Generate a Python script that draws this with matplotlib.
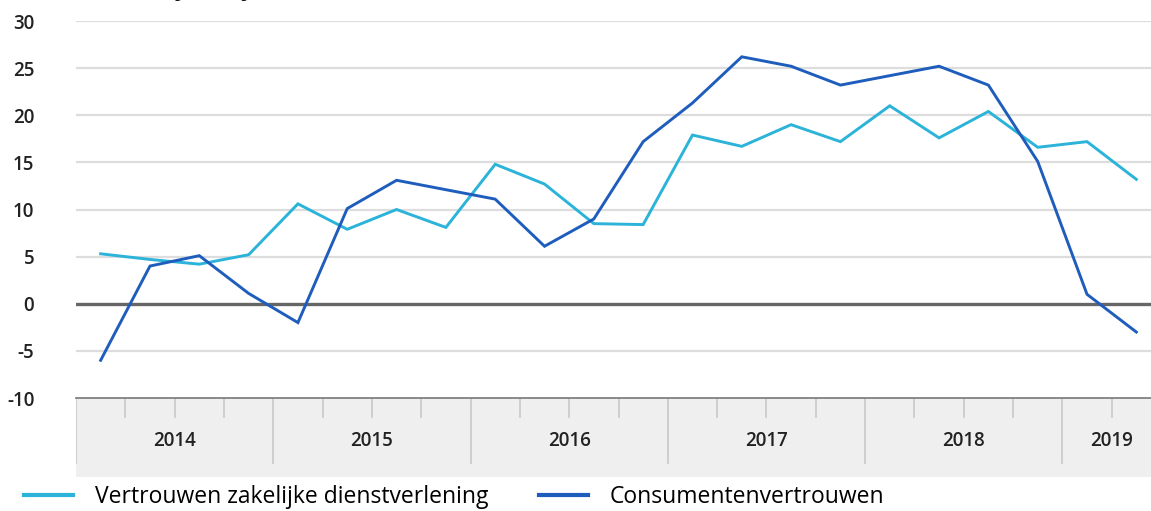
import matplotlib
matplotlib.use("Agg")
import matplotlib.pyplot as plt
from matplotlib.lines import Line2D

# Quarterly figures, 2014 Q1 .. 2019 Q2
years = ["2014", "2015", "2016", "2017", "2018", "2019"]
quarters_per_year = [4, 4, 4, 4, 4, 2]

zakelijk = [5.3, 4.7, 4.2, 5.2, 10.6, 7.9, 10.0, 8.1, 14.8, 12.7, 8.5,
            8.4, 17.9, 16.7, 19.0, 17.2, 21.0, 17.6, 20.4, 16.6, 17.2, 13.2]
consument = [-6.0, 4.0, 5.1, 1.1, -2.0, 10.1, 13.1, 12.1, 11.1, 6.1, 9.0,
             17.2, 21.3, 26.2, 25.2, 23.2, 24.2, 25.2, 23.2, 15.1, 1.0, -3.0]

y_ticks = [-10, -5, 0, 5, 10, 15, 20, 25, 30]
series_labels = ["Vertrouwen zakelijke dienstverlening", "Consumentenvertrouwen"]
title = "Vertrouwen bij bedrijven en consumenten, saldo"

LIGHT = "#2bb3d9"
DARK = "#1f5dbd"
W, H = 1151, 511

plt.rcParams["font.family"] = ["Open Sans", "DejaVu Sans"]

fig = plt.figure(figsize=(W / 100, H / 100), dpi=100)

n = sum(quarters_per_year)
x = [i + 0.5 for i in range(n)]

# plot area in pixels: left 76, right 1161 (runs past the edge), y from 21 to 398
left, right, top, bottom = 76, 1161, 21, 398
ax = fig.add_axes([left / W, 1 - bottom / H, (right - left) / W, (bottom - top) / H])
ax.set_xlim(0, n)
ax.set_ylim(-10, 30)
ax.set_yticks(y_ticks)
ax.set_yticklabels([str(t) for t in y_ticks], fontsize=13.5, fontweight="semibold",
                   color="#222222")
ax.tick_params(axis="y", length=0, pad=30)
ax.tick_params(axis="x", length=0, labelbottom=False)
for s in ["top", "right", "left"]:
    ax.spines[s].set_visible(False)
ax.spines["bottom"].set_color("#777777")
ax.spines["bottom"].set_linewidth(1.2)
for t in y_ticks[1:]:
    if t == 0:
        continue
    ax.axhline(t, color="#dddddd", lw=1.6, zorder=1)
ax.axhline(0, color="#666666", lw=2.4, zorder=2)

ax.plot(x, zakelijk, color=LIGHT, lw=2.1, zorder=3, solid_joinstyle="miter")
ax.plot(x, consument, color=DARK, lw=2.1, zorder=4, solid_joinstyle="miter")

# year band below the plot
band_bottom = 477
bax = fig.add_axes([left / W, 1 - band_bottom / H, (right - left) / W,
                    (band_bottom - bottom) / H], sharex=ax)
bax.set_ylim(0, 1)
bax.set_axis_off()
bax.add_patch(plt.Rectangle((0, 0), n, 1, color="#efefef", zorder=0))
span = band_bottom - bottom
pos = 0
for yr, q in zip(years, quarters_per_year):
    bax.plot([pos, pos], [1, 1 - (463 - bottom) / span], color="#c8c8c8", lw=1.2)
    for k in range(1, q):
        bax.plot([pos + k, pos + k], [1, 1 - (417 - bottom) / span],
                 color="#c8c8c8", lw=1.2)
    bax.text(pos + q / 2, 1 - (441 - bottom) / span, yr, ha="center", va="center",
             fontsize=13.5, fontweight="semibold", color="#222222")
    pos += q
bax.plot([0, n], [1, 1], color="#777777", lw=1.2)

# legend
handles = [Line2D([], [], color=LIGHT, lw=3), Line2D([], [], color=DARK, lw=3)]
fig.legend(handles, series_labels, loc="center left",
           bbox_to_anchor=(24 / W, 1 - 497 / H), ncol=2, frameon=False,
           fontsize=16.5, handlelength=2.14, handletextpad=0.95, columnspacing=2.2,
           borderaxespad=0, borderpad=0)

# title, almost entirely above the visible canvas
fig.text(28 / W, 1 + 4 / H, title, fontsize=15, fontweight="bold",
         va="baseline", ha="left", color="#111111")

fig.savefig("out.png", dpi=100)
